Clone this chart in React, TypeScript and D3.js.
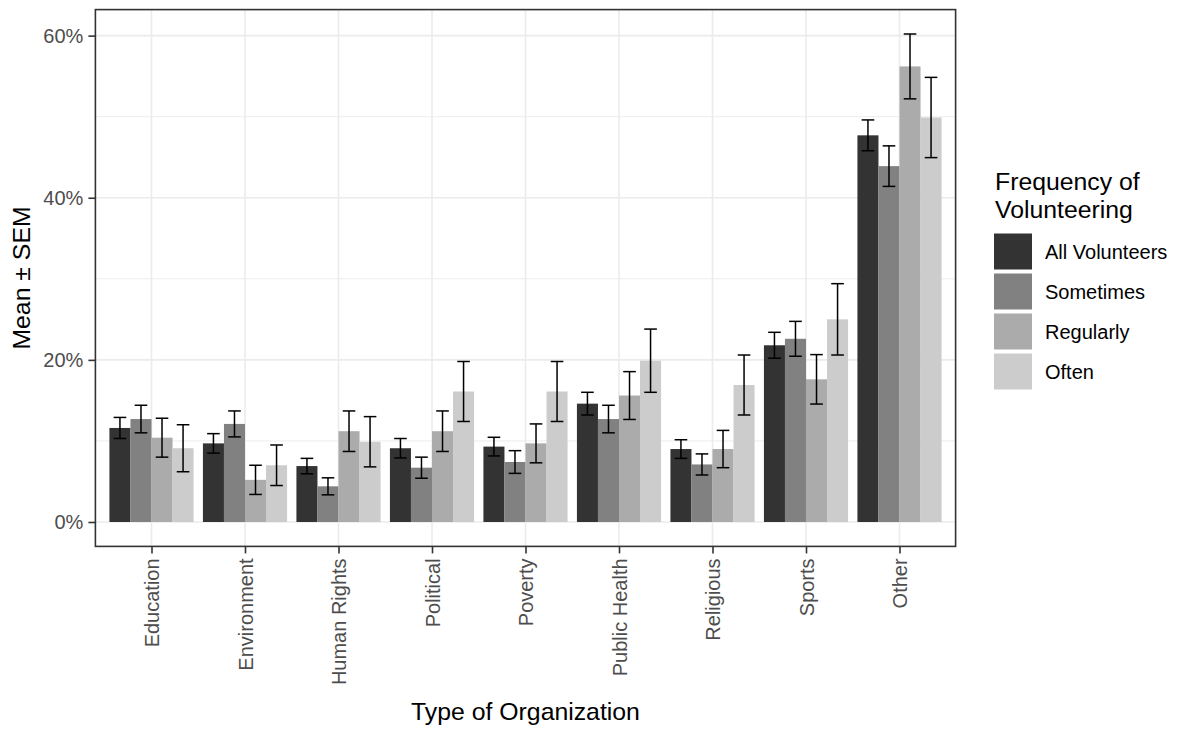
import { useEffect, useRef } from "react";
import * as d3 from "d3";

// categories (x axis) and fill groups
const ORGS = ["Education", "Environment", "Human Rights", "Political", "Poverty", "Public Health", "Religious", "Sports", "Other"];
const FREQS = ["All Volunteers", "Sometimes", "Regularly", "Often"];
const FILLS = ["#333333", "#818181", "#ABABAB", "#CCCCCC"];

// means (%) per organization, one array per frequency group
const MEAN_ALL = [11.6, 9.7, 6.9, 9.1, 9.3, 14.6, 9.0, 21.8, 47.7];
const MEAN_SOMETIMES = [12.7, 12.1, 4.4, 6.7, 7.4, 12.7, 7.1, 22.6, 43.9];
const MEAN_REGULARLY = [10.4, 5.2, 11.2, 11.2, 9.7, 15.6, 9.0, 17.6, 56.2];
const MEAN_OFTEN = [9.1, 7.0, 9.9, 16.1, 16.1, 19.9, 16.9, 25.0, 49.9];

// standard error of the mean (%)
const SEM_ALL = [1.3, 1.2, 0.95, 1.2, 1.15, 1.4, 1.15, 1.6, 1.9];
const SEM_SOMETIMES = [1.7, 1.6, 1.05, 1.3, 1.4, 1.7, 1.3, 2.15, 2.5];
const SEM_REGULARLY = [2.4, 1.8, 2.5, 2.5, 2.4, 2.95, 2.3, 3.05, 4.0];
const SEM_OFTEN = [2.9, 2.5, 3.1, 3.7, 3.7, 3.9, 3.7, 4.4, 4.95];

const Y_TICKS = [0, 20, 40, 60];
const Y_MINOR = [10, 30, 50];

const MEANS = [MEAN_ALL, MEAN_SOMETIMES, MEAN_REGULARLY, MEAN_OFTEN];
const SEMS = [SEM_ALL, SEM_SOMETIMES, SEM_REGULARLY, SEM_OFTEN];

type Row = { org: string; freq: string; mean: number; sem: number };

const rows: Row[] = [];
ORGS.forEach((org, i) => {
	FREQS.forEach((freq, j) => {
		rows.push({ org, freq, mean: MEANS[j][i], sem: SEMS[j][i] });
	});
});

const FONT = "'Liberation Sans', Arial, sans-serif";

export default function App() {
	const ref = useRef<SVGSVGElement>(null);

	useEffect(() => {
		document.body.style.margin = "0";
		const svg = d3.select(ref.current);
		svg.selectAll("*").remove();

		// panel box
		const panel = { left: 95.4, right: 955.6, top: 9.6, bottom: 546.4 };

		const maxTop = d3.max(rows, d => d.mean + d.sem)!;
		const pad = maxTop * 0.05;

		const x = d3.scalePoint<string>()
			.domain(ORGS)
			.range([panel.left, panel.right])
			.padding(0.6);
		const step = x.step();

		const xInner = d3.scaleBand<string>()
			.domain(FREQS)
			.range([-0.45 * step, 0.45 * step]);

		const y = d3.scaleLinear()
			.domain([-pad, maxTop + pad])
			.range([panel.bottom, panel.top]);

		const color = d3.scaleOrdinal<string, string>().domain(FREQS).range(FILLS);

		const g = svg.append("g");

		// grid
		g.selectAll(".minor")
			.data(Y_MINOR)
			.enter()
			.append("line")
			.attr("x1", panel.left)
			.attr("x2", panel.right)
			.attr("y1", d => y(d))
			.attr("y2", d => y(d))
			.attr("stroke", "#EBEBEB")
			.attr("stroke-width", 0.9);

		g.selectAll(".major-y")
			.data(Y_TICKS)
			.enter()
			.append("line")
			.attr("x1", panel.left)
			.attr("x2", panel.right)
			.attr("y1", d => y(d))
			.attr("y2", d => y(d))
			.attr("stroke", "#EBEBEB")
			.attr("stroke-width", 1.6);

		g.selectAll(".major-x")
			.data(ORGS)
			.enter()
			.append("line")
			.attr("x1", d => x(d)!)
			.attr("x2", d => x(d)!)
			.attr("y1", panel.top)
			.attr("y2", panel.bottom)
			.attr("stroke", "#EBEBEB")
			.attr("stroke-width", 1.6);

		// bars
		g.selectAll(".bar")
			.data(rows)
			.enter()
			.append("rect")
			.attr("x", d => x(d.org)! + xInner(d.freq)!)
			.attr("width", xInner.bandwidth())
			.attr("y", d => y(d.mean))
			.attr("height", d => y(0) - y(d.mean))
			.attr("fill", d => color(d.freq));

		// error bars
		const capW = xInner.bandwidth() * 0.6;
		const eb = g.selectAll(".eb")
			.data(rows)
			.enter()
			.append("g")
			.attr("transform", d => `translate(${x(d.org)! + xInner(d.freq)! + xInner.bandwidth() / 2},0)`)
			.attr("stroke", "#000")
			.attr("stroke-width", 1.5);

		eb.append("line")
			.attr("y1", d => y(d.mean - d.sem))
			.attr("y2", d => y(d.mean + d.sem));
		eb.append("line")
			.attr("x1", -capW / 2)
			.attr("x2", capW / 2)
			.attr("y1", d => y(d.mean + d.sem))
			.attr("y2", d => y(d.mean + d.sem));
		eb.append("line")
			.attr("x1", -capW / 2)
			.attr("x2", capW / 2)
			.attr("y1", d => y(d.mean - d.sem))
			.attr("y2", d => y(d.mean - d.sem));

		// panel border
		g.append("rect")
			.attr("x", panel.left)
			.attr("y", panel.top)
			.attr("width", panel.right - panel.left)
			.attr("height", panel.bottom - panel.top)
			.attr("fill", "none")
			.attr("stroke", "#333333")
			.attr("stroke-width", 1.6);

		// y axis
		const yAxis = g.append("g")
			.attr("transform", `translate(${panel.left},0)`)
			.call(d3.axisLeft(y).tickValues(Y_TICKS).tickSize(7).tickPadding(5).tickFormat(d => `${d}%`));
		yAxis.select(".domain").remove();
		yAxis.selectAll("line").attr("stroke", "#333333").attr("stroke-width", 1.6);
		yAxis.selectAll("text")
			.attr("fill", "#4D4D4D")
			.attr("font-family", FONT)
			.attr("font-size", "20px");

		// x axis
		const xAxis = g.append("g")
			.attr("transform", `translate(0,${panel.bottom})`)
			.call(d3.axisBottom(x).tickSize(7).tickPadding(5));
		xAxis.select(".domain").remove();
		xAxis.selectAll("line").attr("stroke", "#333333").attr("stroke-width", 1.6);
		xAxis.selectAll("text")
			.attr("fill", "#4D4D4D")
			.attr("font-family", FONT)
			.attr("font-size", "20px")
			.attr("transform", "rotate(-90)")
			.attr("text-anchor", "end")
			.attr("dy", "0.35em")
			.attr("x", -12)
			.attr("y", 0);

		// axis titles
		g.append("text")
			.attr("x", (panel.left + panel.right) / 2)
			.attr("y", 720)
			.attr("text-anchor", "middle")
			.attr("font-family", FONT)
			.attr("font-size", "24.8px")
			.attr("fill", "#000")
			.text("Type of Organization");

		g.append("text")
			.attr("transform", `translate(30,${(panel.top + panel.bottom) / 2}) rotate(-90)`)
			.attr("text-anchor", "middle")
			.attr("font-family", FONT)
			.attr("font-size", "24.8px")
			.attr("fill", "#000")
			.text("Mean ± SEM");

		// legend
		const legend = g.append("g").attr("transform", "translate(994,0)");
		legend.append("text")
			.attr("x", 1)
			.attr("y", 190)
			.attr("font-family", FONT)
			.attr("font-size", "24.8px")
			.attr("fill", "#000")
			.text("Frequency of");
		legend.append("text")
			.attr("x", 1)
			.attr("y", 218)
			.attr("font-family", FONT)
			.attr("font-size", "24.8px")
			.attr("fill", "#000")
			.text("Volunteering");

		FREQS.forEach((f, i) => {
			const row = legend.append("g").attr("transform", `translate(0,${233.5 + i * 40})`);
			row.append("rect")
				.attr("width", 38)
				.attr("height", 36)
				.attr("fill", color(f));
			row.append("text")
				.attr("x", 51)
				.attr("y", 18)
				.attr("dy", "0.35em")
				.attr("font-family", FONT)
				.attr("font-size", "20px")
				.attr("fill", "#000")
				.text(f);
		});
	}, []);

	return <svg ref={ref} width={1181} height={731} style={{ display: "block", background: "#fff" }}></svg>;
}
